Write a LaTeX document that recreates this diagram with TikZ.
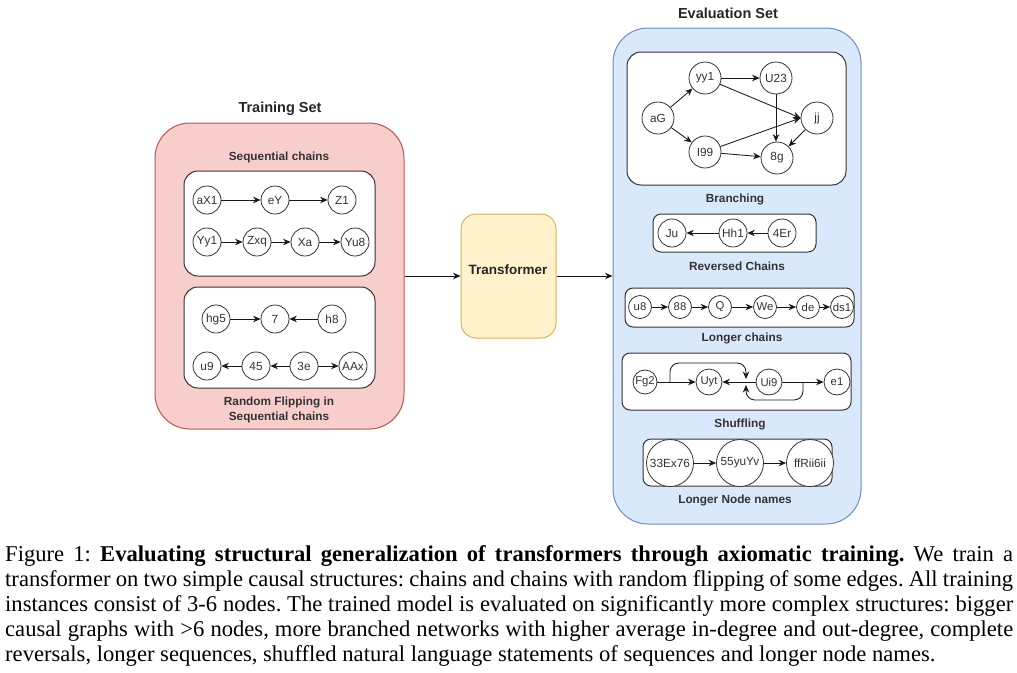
\documentclass[tikz,border=0pt]{standalone}
\usepackage{fontspec}
\setmainfont{Liberation Serif}
\setsansfont{Liberation Sans}
\usetikzlibrary{arrows.meta}
\definecolor{pinkfill}{HTML}{F8CECC}
\definecolor{pinkline}{HTML}{B85450}
\definecolor{bluefill}{HTML}{DAE8FC}
\definecolor{blueline}{HTML}{6C8EBF}
\definecolor{yelfill}{HTML}{FFF2CC}
\definecolor{yelline}{HTML}{D6B656}
\definecolor{dk}{HTML}{333333}
\newcommand{\zb}[1]{\makebox[0pt]{#1}}
\begin{document}
\begin{tikzpicture}[x=1pt,y=-1pt,
  cn/.style={circle,draw=dk,fill=white,line width=0.8pt,inner sep=0pt,minimum size=28pt,
    font=\sffamily\fontsize{11.8}{12}\selectfont,text=dk},
  sn/.style={cn,minimum size=23pt,font=\sffamily\fontsize{11.3}{12}\selectfont},
  mn/.style={cn,minimum size=32pt},
  bn/.style={cn,minimum size=47pt},
  arr/.style={-{Stealth[length=7.5pt,width=6.5pt]},line width=0.85pt,draw=black!90},
  inbox/.style={draw=dk,fill=white,line width=1pt,rounded corners=14pt},
  title/.style={font=\sffamily\bfseries\fontsize{14.5}{17}\selectfont,text=black!85},
  sublab/.style={font=\sffamily\bfseries\fontsize{11.8}{14.5}\selectfont,text=dk,align=center},
]
\useasboundingbox (0,0) rectangle (1017,672);

% ---------- Training set ----------
\node[title] (ttrain) at (280,109) {Training Set};
\node[draw=pinkline,fill=pinkfill,line width=1pt,rounded corners=35pt,
  minimum width=249pt,minimum height=306pt,inner sep=0pt] (train) at (279.5,276) {};
\node[sublab] (lseq) at (279,157) {Sequential chains};
\node[inbox,minimum width=191pt,minimum height=105pt,inner sep=0pt] (seqbox) at (279.5,223.5) {};
\node[cn] (aX1) at (207,200) {\zb{aX1}};
\node[cn] (eY) at (275,200) {\zb{eY}};
\node[cn] (Z1) at (342,200) {\zb{Z1}};
\node[cn] (Yy1) at (207,242) {\zb{Yy1}};
\node[cn] (Zxq) at (257,242) {\zb{Zxq}};
\node[cn] (Xa) at (305,242) {\zb{Xa}};
\node[cn] (Yu8) at (355,242) {\zb{Yu8}};
\draw[arr] (aX1) -- (eY);
\draw[arr] (eY) -- (Z1);
\draw[arr] (Yy1) -- (Zxq);
\draw[arr] (Zxq) -- (Xa);
\draw[arr] (Xa) -- (Yu8);

\node[inbox,minimum width=191pt,minimum height=101pt,inner sep=0pt] (flipbox) at (279.5,337.5) {};
\node[cn] (hg5) at (216,319) {\zb{hg5}};
\node[cn] (n7) at (275,319) {\zb{7}};
\node[cn] (h8) at (332,319) {\zb{h8}};
\node[cn] (u9) at (207,366) {\zb{u9}};
\node[cn] (n45) at (256,366) {\zb{45}};
\node[cn] (n3e) at (304,366) {\zb{3e}};
\node[cn] (AAx) at (353,366) {\zb{AAx}};
\draw[arr] (hg5) -- (n7);
\draw[arr] (h8) -- (n7);
\draw[arr] (n45) -- (u9);
\draw[arr] (n3e) -- (n45);
\draw[arr] (n3e) -- (AAx);
\node[sublab] (lflip) at (279,410) {Random Flipping in\\Sequential chains};

% ---------- Transformer ----------
\node[draw=yelline,fill=yelfill,line width=1pt,rounded corners=15pt,
  minimum width=95pt,minimum height=124pt,inner sep=0pt] (tr) at (508.5,276) {};
\node[font=\sffamily\bfseries\fontsize{13.5}{16}\selectfont,text=black!85] (trl) at (508,270) {Transformer};

% ---------- Evaluation set ----------
\node[title] (teval) at (728,13) {Evaluation Set};
\node[draw=blueline,fill=bluefill,line width=1pt,rounded corners=35pt,
  minimum width=248pt,minimum height=496pt,inner sep=0pt] (eval) at (737,276) {};

\draw[arr] (train.east) -- (tr.west);
\draw[arr] (tr.east) -- (eval.west);

% Branching
\node[inbox,minimum width=219pt,minimum height=133pt,inner sep=0pt] (brbox) at (736.5,118.5) {};
\node[mn] (aG) at (658,118) {\zb{aG}};
\node[mn] (yy1) at (705,78) {\zb{yy1}};
\node[mn] (U23) at (776,78) {\zb{U23}};
\node[mn] (jj) at (817,118) {\zb{jj}};
\node[mn] (I99) at (705,152) {\zb{I99}};
\node[mn] (g8) at (777,158) {\zb{8g}};
\draw[arr] (aG) -- (yy1);
\draw[arr] (aG) -- (I99);
\draw[arr] (yy1) -- (U23);
\draw[arr] (yy1) -- (jj.west);
\draw[arr] (U23) -- (U23 |- g8.north);
\draw[arr] (I99) -- (jj.west);
\draw[arr] (I99) -- (g8);
\draw[arr] (jj) -- (g8);
\node[sublab] (lbr) at (735,199) {Branching};

% Reversed
\node[inbox,rounded corners=8pt,minimum width=163pt,minimum height=38pt,inner sep=0pt] (revbox) at (734.5,233) {};
\node[cn] (Ju) at (672,233) {\zb{Ju}};
\node[cn] (Hh1) at (733,233) {\zb{Hh1}};
\node[cn] (Er4) at (782,233) {\zb{4Er}};
\draw[arr] (Hh1) -- (Ju);
\draw[arr] (Er4) -- (Hh1);
\node[sublab] (lrev) at (737,266) {Reversed Chains};

% Longer chains
\node[inbox,rounded corners=8pt,minimum width=229pt,minimum height=39pt,inner sep=0pt] (lcbox) at (739.5,307.5) {};
\node[sn] (u8) at (640,307) {\zb{u8}};
\node[sn] (n88) at (680,307) {\zb{88}};
\node[sn] (Q) at (720,307) {\zb{Q}};
\node[sn] (We) at (765,307) {\zb{We}};
\node[sn] (de) at (808,307) {\zb{de}};
\node[sn] (ds1) at (842,307) {\zb{ds1}};
\draw[arr] (u8) -- (n88);
\draw[arr] (n88) -- (Q);
\draw[arr] (Q) -- (We);
\draw[arr] (We) -- (de);
\draw[arr] (de) -- (ds1);
\node[sublab] (llc) at (742,338) {Longer chains};

% Shuffling
\node[inbox,rounded corners=8pt,minimum width=229pt,minimum height=57pt,inner sep=0pt] (shbox) at (736.5,381.5) {};
\node[sn,minimum size=24pt] (Fg2) at (645,382) {\zb{Fg2}};
\node[sn,minimum size=26pt] (Uyt) at (709,382) {\zb{Uyt}};
\node[sn,minimum size=26pt] (Ui9) at (769,382) {\zb{Ui9}};
\node[sn,minimum size=26pt] (e1) at (837,382) {\zb{e1}};
\coordinate (c1s) at (670,382);
\coordinate (c1t) at (746,379);
\coordinate (c2s) at (803,382);
\coordinate (c2t) at (746,385);
\draw[arr] (Fg2) -- (Uyt);
\draw[arr] (Ui9) -- (Uyt);
\draw[arr] (Ui9) -- (e1);
\draw[arr,rounded corners=9pt] (c1s) -- ++(0,-19) -| (c1t);
\draw[arr,rounded corners=9pt] (c2s) -- ++(0,18) -| (c2t);
\node[sublab] (lsh) at (740,424) {Shuffling};

% Longer node names
\node[inbox,rounded corners=8pt,minimum width=189pt,minimum height=47pt,inner sep=0pt] (lnbox) at (737.5,462.5) {};
\node[bn] (x33) at (670,463) {\zb{33Ex76}};
\node[bn] (x55) at (740,463) {\zb{55yuYv}};
\node[bn] (xff) at (810,463) {\zb{ffRii6ii}};
\draw[arr] (x33) -- (x55);
\draw[arr] (x55) -- (xff);
\node[sublab] (lln) at (735,500) {Longer Node names};

% ---------- Caption ----------
\node[anchor=north west,inner sep=0pt,text width=1008pt,align=justify,
  font=\frenchspacing\fontsize{22.6}{25.2}\selectfont] (cap) at (5,545) {%
Figure 1: \textbf{Evaluating structural generalization of transformers through axiomatic training.} We train a\linebreak
transformer on two simple causal structures: chains and chains with random flipping of some edges. All training\linebreak
instances consist of 3-6 nodes. The trained model is evaluated on significantly more complex structures: bigger\linebreak
causal graphs with >6 nodes, more branched networks with higher average in-degree and out-degree, complete\linebreak
reversals, longer sequences, shuffled natural language statements of sequences and longer node names.};
\end{tikzpicture}
\end{document}
